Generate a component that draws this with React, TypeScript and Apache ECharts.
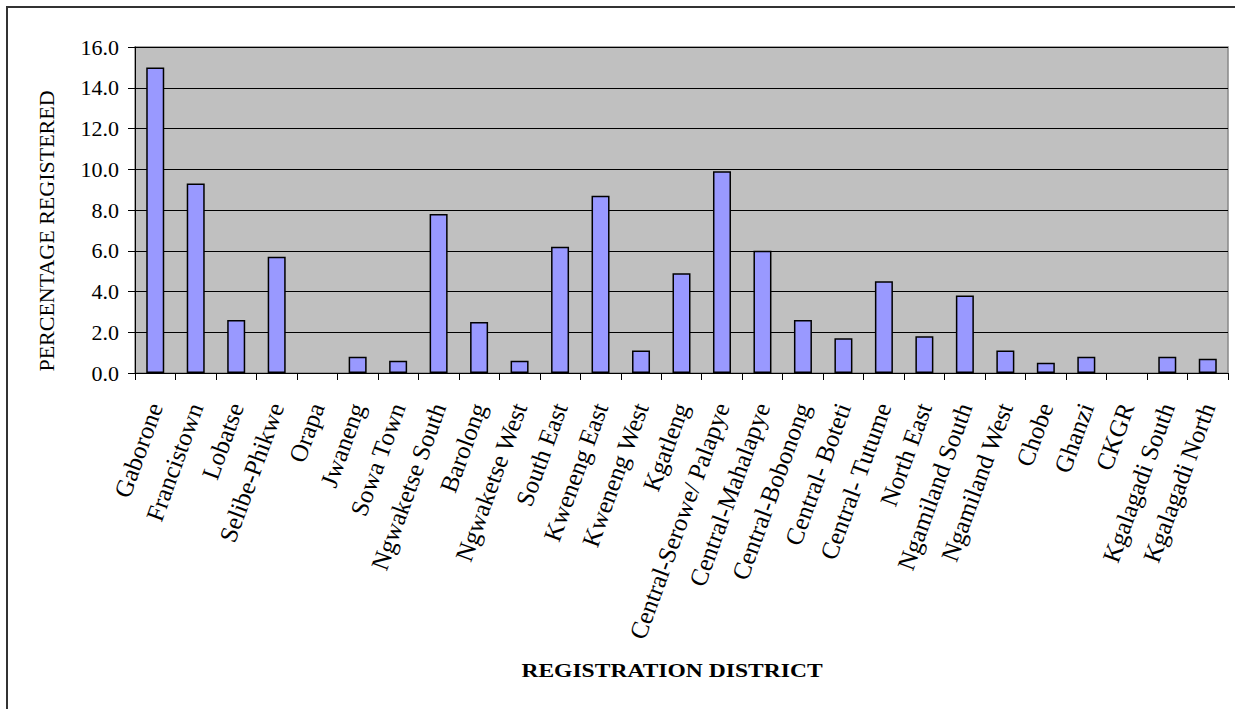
import React, { useEffect, useRef } from "react";
import * as echarts from "echarts";

const districts = [
  "Gaborone", "Francistown", "Lobatse", "Selibe-Phikwe", "Orapa", "Jwaneng",
  "Sowa Town", "Ngwaketse South", "Barolong", "Ngwaketse West", "South East",
  "Kweneng East", "Kweneng West", "Kgatleng", "Central-Serowe/ Palapye",
  "Central-Mahalapye", "Central-Bobonong", "Central- Boteti", "Central- Tutume",
  "North East", "Ngamiland South", "Ngamiland West", "Chobe", "Ghanzi", "CKGR",
  "Kgalagadi South", "Kgalagadi North",
];

const percentRegistered = [
  15.0, 9.3, 2.6, 5.7, 0.0, 0.8, 0.6, 7.8, 2.5, 0.6, 6.2, 8.7, 1.1, 4.9, 9.9,
  6.0, 2.6, 1.7, 4.5, 1.8, 3.8, 1.1, 0.5, 0.8, 0.0, 0.8, 0.7,
];

const yTicks = { min: 0, max: 16, interval: 2 };
const yTitle = "PERCENTAGE REGISTERED";
const xTitle = "REGISTRATION DISTRICT";

const serif = "Liberation Serif";

export default function App() {
  const ref = useRef<HTMLDivElement>(null);
  useEffect(() => {
    if (!ref.current) return;
    const chart = echarts.init(ref.current, undefined, { renderer: "svg" });
    chart.setOption({
      animation: false,
      backgroundColor: "#ffffff",
      grid: {
        left: 135,
        top: 47,
        width: 1093,
        height: 326,
        show: true,
        backgroundColor: "#C0C0C0",
        borderColor: "#888888",
        borderWidth: 1.5,
        containLabel: false,
      },
      xAxis: {
        type: "category",
        data: districts,
        axisLine: { show: true, lineStyle: { color: "#000", width: 1 } },
        axisTick: { show: true, length: 7, interval: 0, lineStyle: { color: "#000" } },
        axisLabel: {
          interval: 0,
          rotate: 70,
          margin: 31,
          fontSize: 25,
          fontFamily: serif,
          color: "#000",
        },
      },
      yAxis: {
        type: "value",
        min: yTicks.min,
        max: yTicks.max,
        interval: yTicks.interval,
        axisLine: { show: true, lineStyle: { color: "#000", width: 1 } },
        axisTick: { show: true, length: 7, lineStyle: { color: "#000" } },
        axisLabel: {
          formatter: (v: number) => v.toFixed(1),
          fontSize: 22,
          fontFamily: serif,
          color: "#000",
          margin: 16,
        },
        splitLine: { show: true, lineStyle: { color: "#000", width: 1 } },
      },
      series: [
        {
          type: "bar",
          data: percentRegistered.map((v) =>
            v === 0 ? { value: v, itemStyle: { borderWidth: 0 } } : v
          ),
          barWidth: 18,
          itemStyle: { color: "#9999FF", borderColor: "#000", borderWidth: 1.5 },
        },
      ],
      graphic: [
        {
          type: "rect",
          shape: { x: 7, y: 7, width: 1250, height: 730 },
          style: { fill: "none", stroke: "#333", lineWidth: 2 },
          silent: true,
        },
        {
          type: "text",
          x: 46,
          y: 231,
          rotation: Math.PI / 2,
          style: {
            text: yTitle,
            fontSize: 22,
            fontFamily: serif,
            fill: "#000",
            align: "center",
            verticalAlign: "middle",
          },
        },
        {
          type: "text",
          x: 672,
          y: 671,
          scaleX: 1.24,
          style: {
            text: xTitle,
            fontSize: 19,
            fontWeight: "bold",
            fontFamily: serif,
            fill: "#000",
            align: "center",
            verticalAlign: "middle",
          },
        },
      ],
    });
    return () => chart.dispose();
  }, []);
  return (
    <div
      ref={ref}
      style={{ position: "fixed", left: 0, top: 0, width: 1235, height: 709 }}
    />
  );
}
